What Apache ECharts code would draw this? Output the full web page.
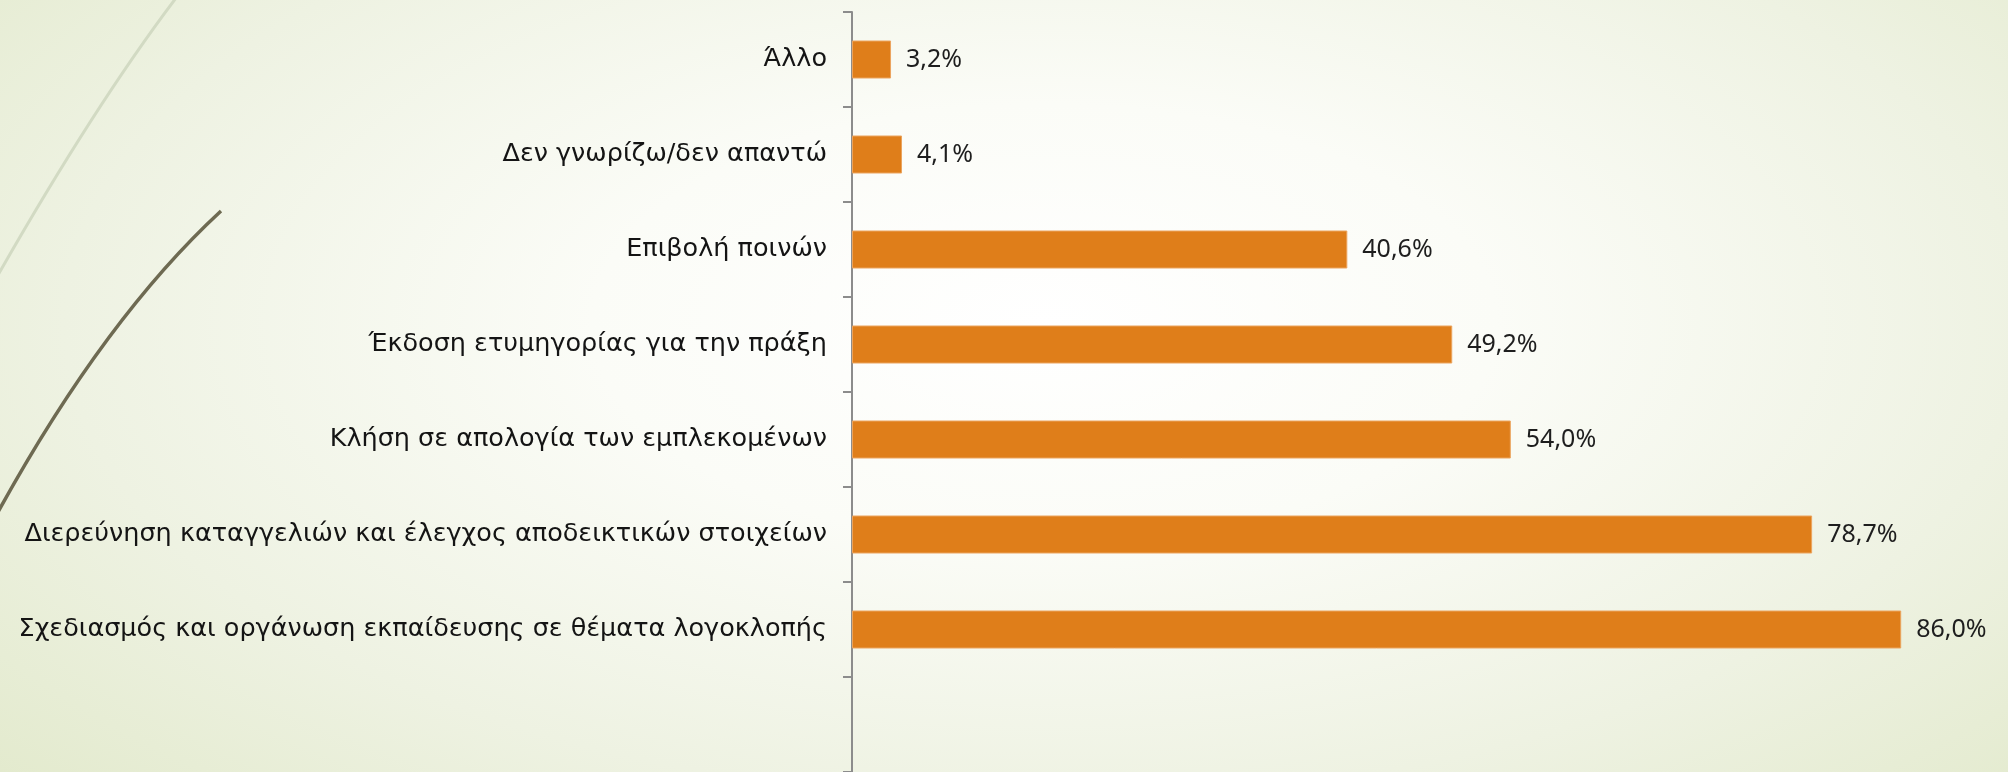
<!DOCTYPE html>
<html lang="el">
<head>
    <meta charset="UTF-8">
    <title>Ενέργειες για τη λογοκλοπή</title>
    <style>
        html, body { margin: 0; padding: 0; }
        body {
            width: 2008px; height: 772px; overflow: hidden;
            background: radial-gradient(ellipse 75% 95% at 52% 42%, #ffffff 0%, #fbfcf7 30%, #eef2e2 65%, #e0e8c8 100%);
        }
        #main { width: 2008px; height: 772px; }
    </style>
</head>
<body>
    <div id="main"></div>

    <script src="https://cdn.jsdelivr.net/npm/echarts@6/dist/echarts.min.js"></script>
    <script type="text/javascript">
        // κατηγορίες από πάνω προς τα κάτω
        var categories = [
            'Άλλο',
            'Δεν γνωρίζω/δεν απαντώ',
            'Επιβολή ποινών',
            'Έκδοση ετυμηγορίας για την πράξη',
            'Κλήση σε απολογία των εμπλεκομένων',
            'Διερεύνηση καταγγελιών και έλεγχος αποδεικτικών στοιχείων',
            'Σχεδιασμός και οργάνωση εκπαίδευσης σε θέματα λογοκλοπής'
        ];
        var values = [3.2, 4.1, 40.6, 49.2, 54.0, 78.7, 86.0];

        // η αρχική διαφάνεια έχει μια κενή θέση στο κάτω μέρος του άξονα
        var axisCats = categories.concat(['']);
        var axisVals = values.concat([null]);

        var myChart = echarts.init(document.getElementById('main'));
        var option = {
            backgroundColor: 'transparent',
            textStyle: { fontFamily: 'Noto Sans' },
            graphic: [
                {
                    type: 'bezierCurve',
                    shape: { x1: 176, y1: -2, x2: -2, y2: 275, cpx1: 95, cpy1: 105 },
                    style: { stroke: '#d2dac3', lineWidth: 3, fill: null },
                    silent: true
                },
                {
                    type: 'bezierCurve',
                    shape: { x1: 221, y1: 211, x2: -2, y2: 512, cpx1: 105, cpy1: 318 },
                    style: { stroke: '#6e6a52', lineWidth: 3.5, fill: null },
                    silent: true
                }
            ],
            grid: {
                left: 852,
                top: 12,
                width: 1220,
                height: 760,
                outerBoundsMode: 'none'
            },
            xAxis: {
                type: 'value',
                min: 0,
                max: 100,
                show: false
            },
            yAxis: {
                type: 'category',
                inverse: true,
                data: axisCats,
                axisLine: { show: true, lineStyle: { color: '#8c8c8c', width: 2 } },
                axisTick: { show: true, length: 9, lineStyle: { color: '#8c8c8c', width: 2 } },
                axisLabel: {
                    margin: 25,
                    color: '#141414',
                    fontSize: 25.5,
                    fontFamily: 'DejaVu Sans'
                }
            },
            series: [
                {
                    name: 'Ποσοστό',
                    type: 'bar',
                    data: axisVals,
                    barWidth: 38,
                    itemStyle: {
                        color: '#df7e1a',
                        borderColor: '#eba45e',
                        borderWidth: 1
                    },
                    label: {
                        show: true,
                        position: 'right',
                        distance: 15,
                        color: '#1e1e1e',
                        fontSize: 25,
                        fontFamily: 'Noto Sans',
                        formatter: function (p) {
                            return p.value.toFixed(1).replace('.', ',') + '%';
                        }
                    },
                    silent: true,
                    animation: false
                }
            ]
        };
        myChart.setOption(option);
    </script>
</body>
</html>
